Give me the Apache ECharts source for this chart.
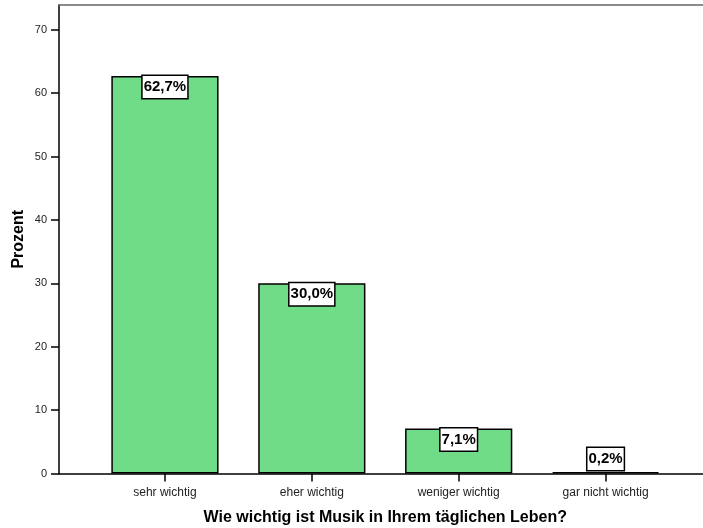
<!DOCTYPE html>
<html><head><meta charset="utf-8">
<script src="https://cdn.jsdelivr.net/npm/echarts@6/dist/echarts.min.js"></script>
<style>html,body{margin:0;padding:0;background:#fff}#c{width:703px;height:528px}</style>
</head><body><div id="c"></div>
<script>
const categories = ['sehr wichtig', 'eher wichtig', 'weniger wichtig', 'gar nicht wichtig'];
const percentValues = [62.7, 30.0, 7.1, 0.2];
const valueLabels = ['62,7%', '30,0%', '7,1%', '0,2%'];
const yTicks = [0, 10, 20, 30, 40, 50, 60, 70];
const xTitle = 'Wie wichtig ist Musik in Ihrem täglichen Leben?';
const yTitle = 'Prozent';

const FONT = '"Liberation Sans", Arial, sans-serif';
const YMAX = 73.9;
const chart = echarts.init(document.getElementById('c'), null, {renderer: 'canvas'});
chart.setOption({
  animation: false,
  backgroundColor: '#fff',
  grid: [
    {left: 91.5, right: 24, top: 5, bottom: 54.5, outerBoundsMode: 'none', containLabel: false},
    {left: 59, right: 0, top: 5, bottom: 54.5, outerBoundsMode: 'none', containLabel: false}
  ],
  xAxis: [
    {gridIndex: 0, type: 'category', data: categories,
     axisLine: {show: false},
     axisTick: {show: true, alignWithLabel: true, length: 8, lineStyle: {color: '#000', width: 1.5}},
     axisLabel: {fontFamily: FONT, fontSize: 12, color: '#222', margin: 13},
     name: xTitle, nameLocation: 'middle', nameGap: 36, nameMoveOverlap: false,
     nameTextStyle: {fontFamily: FONT, fontSize: 16, fontWeight: 'bold', color: '#000'}},
    {gridIndex: 1, type: 'value', min: 0, max: 1, position: 'bottom',
     axisLine: {show: true, lineStyle: {color: '#000', width: 1.5}},
     axisTick: {show: false}, axisLabel: {show: false}, splitLine: {show: false}},
    {gridIndex: 1, type: 'value', min: 0, max: 1, position: 'top',
     axisLine: {show: true, lineStyle: {color: '#666', width: 1.5}},
     axisTick: {show: false}, axisLabel: {show: false}, splitLine: {show: false}}
  ],
  yAxis: [
    {gridIndex: 0, type: 'value', min: 0, max: YMAX, show: false, splitLine: {show: false}},
    {gridIndex: 1, type: 'value', min: 0, max: YMAX,
     axisLine: {show: true, lineStyle: {color: '#000', width: 1.5}},
     axisTick: {show: true, length: 8, customValues: yTicks, lineStyle: {color: '#000', width: 1.5}},
     axisLabel: {customValues: yTicks, fontFamily: FONT, fontSize: 11, color: '#222', margin: 12},
     splitLine: {show: false},
     name: yTitle, nameLocation: 'middle', nameGap: 32, nameMoveOverlap: false,
     nameTextStyle: {fontFamily: FONT, fontSize: 16, fontWeight: 'bold', color: '#000'}}
  ],
  series: [{
    type: 'bar', xAxisIndex: 0, yAxisIndex: 0,
    barWidth: '73%',
    itemStyle: {color: '#70dc87', borderColor: '#000', borderWidth: 1.5},
    data: percentValues.map(v => v < 3
      ? {value: v, label: {position: 'top', distance: 2}}
      : {value: v}),
    label: {
      show: true, position: 'insideTop', distance: 0,
      formatter: p => valueLabels[p.dataIndex],
      fontFamily: FONT, fontSize: 15, fontWeight: 'bold', color: '#000',
      lineHeight: 18,
      backgroundColor: '#fff', borderColor: '#000', borderWidth: 1.5,
      padding: [2, 1, 2, 1]
    }
  }]
});
</script></body></html>
